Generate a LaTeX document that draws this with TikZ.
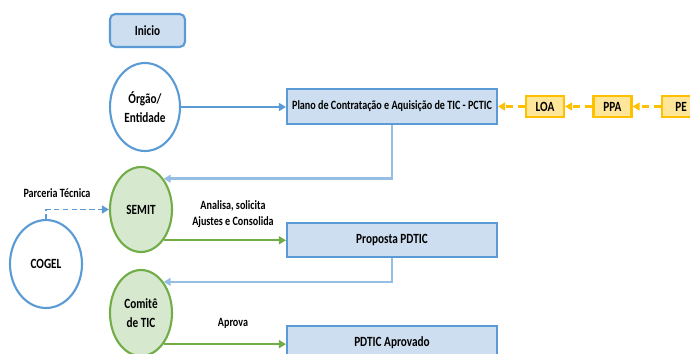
\documentclass[tikz,border=0pt]{standalone}
\usepackage{fontspec}
\setmainfont{Carlito}[FakeStretch=0.8]
\usetikzlibrary{arrows.meta}
\usetikzlibrary{shapes.geometric}

\definecolor{azulborda}{RGB}{91,155,213}
\definecolor{azulfundo}{RGB}{205,222,240}
\definecolor{azulclaro}{RGB}{150,190,228}
\definecolor{verdeborda}{RGB}{112,173,71}
\definecolor{verdefundo}{RGB}{214,232,206}
\definecolor{laranjaborda}{RGB}{255,192,0}
\definecolor{laranjafundo}{RGB}{255,230,153}

\tikzset{
  texto/.style={font=\fontsize{8}{11}\selectfont\bfseries, align=center},
  rotulo/.style={font=\fontsize{7.2}{9}\selectfont\bfseries, align=center},
  caixa/.style={texto, draw=azulborda, fill=azulfundo, line width=1.2pt, minimum width=4.2cm, minimum height=0.69cm, inner sep=1pt},
  caixinha/.style={texto, draw=laranjaborda, fill=laranjafundo, line width=1.2pt, minimum width=0.76cm, minimum height=0.42cm, inner sep=1pt},
  circulo/.style={texto, ellipse, draw=azulborda, fill=white, line width=1.2pt, inner sep=0pt},
  circuloverde/.style={texto, ellipse, draw=verdeborda, fill=verdefundo, line width=1.2pt, inner sep=0pt},
  ligacao/.style={draw=azulborda, line width=1pt},
  retorno/.style={draw=azulclaro, line width=1.4pt},
  avanco/.style={draw=verdeborda, line width=1.2pt},
  pontilhado/.style={draw=laranjaborda, line width=1.2pt, dash pattern=on 4pt off 3pt},
  tracejado/.style={draw=azulborda, line width=1pt, dash pattern=on 3pt off 2pt}
}

\begin{document}
\begin{tikzpicture}[x=0.02cm, y=-0.02cm, >={Triangle[length=4pt,width=4.5pt]}]
  \useasboundingbox (0,0) rectangle (690,353);
  \clip (0,0) rectangle (690,353);

  \node[caixa, rounded corners=3pt, minimum width=1.5cm, minimum height=0.66cm] (inicio) at (147.5,30.5) {Inicio};
  \node[circulo, minimum width=1.4cm, minimum height=1.76cm] (orgao) at (145,107) {Órgão/\\Entidade};
  \node[caixa, font=\fontsize{7.2}{9}\selectfont\bfseries] (pctic) at (392,106.5) {Plano de Contratação e Aquisição de TIC - PCTIC};
  \node[caixinha] (loa) at (545,106.5) {LOA};
  \node[caixinha] (ppa) at (612.5,106.5) {PPA};
  \node[caixinha] (pe) at (681,106.5) {PE};

  \node[circuloverde, minimum width=1.24cm, minimum height=1.7cm] (semit) at (141,209.5) {SEMIT};
  \node[circulo, minimum width=1.44cm, minimum height=1.76cm] (cogel) at (46,264) {COGEL};
  \node[caixa] (proposta) at (392,240) {Proposta PDTIC};
  \node[circuloverde, minimum width=1.24cm, minimum height=1.72cm] (comite) at (141,313) {Comitê\\de TIC};
  \node[caixa] (aprovado) at (392,343) {PDTIC Aprovado};

  \node[rotulo] (parceria) at (57,193) {Parceria Técnica};
  \node[rotulo] (analisa) at (233,214) {Analisa, solicita\\Ajustes e Consolida};
  \node[rotulo] (aprova) at (233,323) {Aprova};

  % ligacoes
  \draw[ligacao,->] (orgao.east) -- (orgao.east -| pctic.west);
  \draw[pontilhado,->] (loa) -- (pctic);
  \draw[pontilhado,->] (ppa) -- (loa);
  \draw[pontilhado,->] (pe) -- (ppa);
  \draw[retorno,->] (pctic.south) |- (semit.north east);
  \draw[tracejado,->] (cogel.north) |- (semit.west);
  \draw[avanco,->] (semit.south east) -- (semit.south east -| proposta.west);
  \draw[retorno,->] (proposta.south) |- (comite.north east);
  \draw[avanco,->] (comite.south east) -- (comite.south east -| aprovado.west);
\end{tikzpicture}
\end{document}
